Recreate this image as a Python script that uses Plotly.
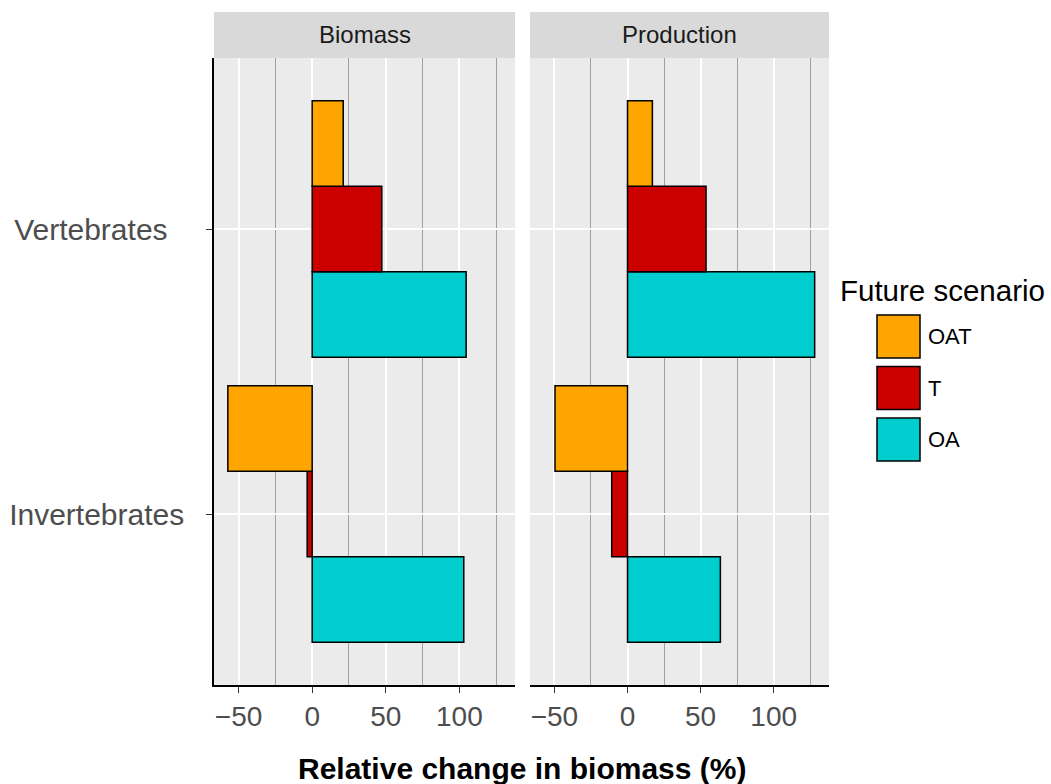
import plotly.graph_objects as go

# ---- data -------------------------------------------------------------
categories = ["Invertebrates", "Vertebrates"]
category_labels = ["Invertebrates", "Vertebrates\u00a0\u00a0"]
scenarios = ["OAT", "T", "OA"]
scenario_colors = {"OAT": "#FFA500", "T": "#CD0000", "OA": "#00CDCD"}
facets = ["Biomass", "Production"]

# relative change (%) per category, ordered as `categories`
biomass_oat = [-57.3, 21.1]
biomass_t = [-3.4, 47.3]
biomass_oa = [103.0, 104.6]
production_oat = [-49.6, 17.0]
production_t = [-10.8, 53.7]
production_oa = [63.5, 128.0]

values = {
    "Biomass": {"OAT": biomass_oat, "T": biomass_t, "OA": biomass_oa},
    "Production": {"OAT": production_oat, "T": production_t, "OA": production_oa},
}

x_ticks = [-50, 0, 50, 100]
x_range = [-66.7, 137.8]

# ---- layout geometry (pixels) ------------------------------------------
W, H = 1051, 784
panel_x = {"Biomass": (214, 515), "Production": (530, 829)}
panel_top, panel_bottom = 58, 685
strip_top = 12


def px(x):
    return x / W


def py(y):
    return 1 - y / H


fig = go.Figure()

axis_ids = {"Biomass": ("x", "y"), "Production": ("x2", "y2")}

# bars: the last trace is drawn at the top of each group
for facet in facets:
    xa, ya = axis_ids[facet]
    for sc in reversed(scenarios):
        fig.add_trace(go.Bar(
            x=values[facet][sc], y=categories, orientation="h",
            name=sc, xaxis=xa, yaxis=ya, showlegend=False,
            marker=dict(color=scenario_colors[sc],
                        line=dict(color="black", width=1.5)),
            offsetgroup=sc,
        ))

font_family = "Liberation Sans, Arial, sans-serif"

xaxis_common = dict(
    range=x_range, tickvals=x_ticks, ticktext=[f"{v}" if v >= 0 else f"\u2212{abs(v)}" for v in x_ticks],
    showgrid=True, gridcolor="white", gridwidth=1.5,
    minor=dict(tickvals=[-25, 25, 75, 125], showgrid=True,
               gridcolor="#A0A0A0", gridwidth=1.1),
    showline=True, linecolor="black", linewidth=1.5,
    ticks="outside", ticklen=6, tickwidth=1.3, tickcolor="#333333",
    tickfont=dict(size=28, color="#4D4D4D", family=font_family),
    zeroline=False, fixedrange=True,
)

yaxis_common = dict(
    type="category", categoryorder="array", categoryarray=categories,
    range=[-0.6, 1.6], domain=[py(panel_bottom), py(panel_top)],
    showgrid=True, gridcolor="white", gridwidth=1.5, zeroline=False,
)

fig.update_layout(
    width=W, height=H,
    margin=dict(l=0, r=0, t=0, b=0),
    paper_bgcolor="white", plot_bgcolor="#EBEBEB",
    barmode="group", bargap=0.1, bargroupgap=0,
    font=dict(family=font_family),
    showlegend=False,
    xaxis=dict(xaxis_common, domain=[px(panel_x["Biomass"][0]), px(panel_x["Biomass"][1])], anchor="y"),
    xaxis2=dict(xaxis_common, domain=[px(panel_x["Production"][0]), px(panel_x["Production"][1])], anchor="y2"),
    yaxis=dict(yaxis_common, anchor="x",
               tickvals=categories, ticktext=category_labels,
               showline=True, linecolor="black", linewidth=1.5,
               ticks="outside", ticklen=6, tickwidth=1.3, tickcolor="#333333",
               ticklabelstandoff=16,
               tickfont=dict(size=30, color="#4D4D4D", family=font_family)),
    yaxis2=dict(yaxis_common, anchor="x2", matches="y",
                showticklabels=False, ticks="", showline=False),
)

shapes = []
annotations = []

# facet strips
for facet in facets:
    x0, x1 = panel_x[facet]
    shapes.append(dict(type="rect", xref="paper", yref="paper",
                       x0=px(x0), x1=px(x1), y0=py(panel_top), y1=py(strip_top),
                       fillcolor="#D9D9D9", line=dict(width=0), layer="below"))
    annotations.append(dict(text=facet, xref="paper", yref="paper",
                            x=px((x0 + x1) / 2), y=py((strip_top + panel_top) / 2),
                            xanchor="center", yanchor="middle", showarrow=False,
                            font=dict(size=24, color="#1A1A1A", family=font_family)))

# shared x-axis title
annotations.append(dict(text="<b>Relative change in biomass (%)</b>", xref="paper", yref="paper",
                        x=px((panel_x["Biomass"][0] + panel_x["Production"][1]) / 2), y=py(768),
                        xanchor="center", yanchor="middle", showarrow=False,
                        font=dict(size=30, color="black", family=font_family)))

# legend
legend_left = 838
annotations.append(dict(text="Future scenario", xref="paper", yref="paper",
                        x=px(legend_left), y=py(290), xanchor="left", yanchor="middle",
                        showarrow=False, font=dict(size=29.5, color="black", family=font_family)))
key_x0, key_size, key_step, key_top = 877, 43, 51.5, 315
for i, sc in enumerate(scenarios):
    y0 = key_top + i * key_step
    shapes.append(dict(type="rect", xref="paper", yref="paper",
                       x0=px(key_x0), x1=px(key_x0 + key_size),
                       y0=py(y0 + key_size), y1=py(y0),
                       fillcolor=scenario_colors[sc], line=dict(color="black", width=1.5)))
    annotations.append(dict(text=sc, xref="paper", yref="paper",
                            x=px(key_x0 + key_size + 6), y=py(y0 + key_size / 2),
                            xanchor="left", yanchor="middle", showarrow=False,
                            font=dict(size=22, color="black", family=font_family)))

fig.update_layout(shapes=shapes, annotations=annotations)

fig.write_html("out.html")
